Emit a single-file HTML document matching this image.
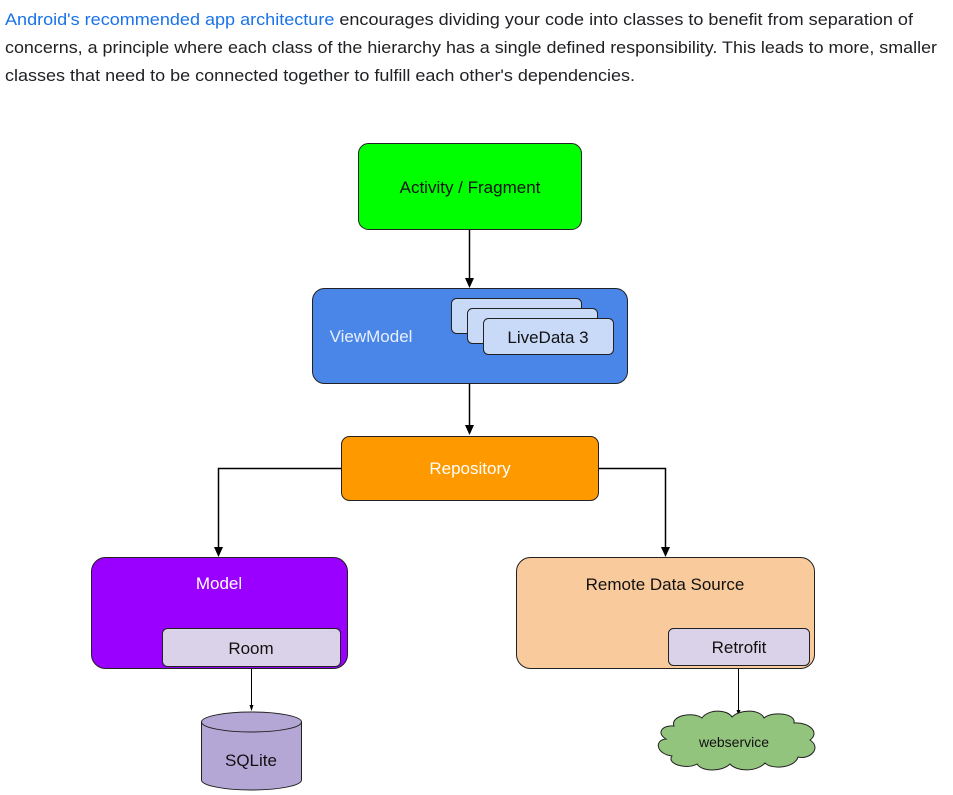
<!DOCTYPE html>
<html><head><meta charset="utf-8"><style>
body{margin:0;background:#fff;width:953px;height:795px;overflow:hidden}
svg{position:absolute;left:0;top:0}
</style></head><body>
<svg width="953" height="795" font-family="Liberation Sans, sans-serif">
<g font-size="16.4" fill="#202124">
<text x="5" y="25" textLength="908" lengthAdjust="spacingAndGlyphs"><tspan fill="#1a73e8">Android's recommended app architecture</tspan> encourages dividing your code into classes to benefit from separation of</text>
<text x="5" y="53" textLength="932" lengthAdjust="spacingAndGlyphs">concerns, a principle where each class of the hierarchy has a single defined responsibility. This leads to more, smaller</text>
<text x="5" y="81" textLength="630" lengthAdjust="spacingAndGlyphs">classes that need to be connected together to fulfill each other's dependencies.</text>
</g>
<g stroke="#000" stroke-width="1.5" fill="none">
<line x1="469.5" y1="230" x2="469.5" y2="278"/>
<line x1="469.5" y1="384" x2="469.5" y2="426"/>
<polyline points="341,468.5 218.5,468.5 218.5,548"/>
<polyline points="598,468.5 665.5,468.5 665.5,548"/>
</g>
<g fill="#000"><path d="M465,278 L474,278 L469.5,288Z"/><path d="M465,425 L474,425 L469.5,435Z"/><path d="M214,547 L223,547 L218.5,557Z"/><path d="M661,547 L670,547 L665.5,557Z"/></g>
<line x1="251.5" y1="666" x2="251.5" y2="706" stroke="#000"/><path d="M249.5,705 L253.5,705 L251.5,711Z"/>
<line x1="738.5" y1="665" x2="738.5" y2="711" stroke="#000"/><path d="M736.5,710 L740.5,710 L738.5,716Z"/>
<rect x="358.5" y="143.5" width="223" height="86" rx="10" fill="#00ff00" stroke="#222"/>
<text x="470" y="193" font-size="17" text-anchor="middle" fill="#111">Activity / Fragment</text>
<rect x="312.5" y="288.5" width="315" height="95" rx="12" fill="#4a86e8" stroke="#222"/>
<text x="371" y="342" font-size="17" text-anchor="middle" fill="#e8f0fe">ViewModel</text>
<rect x="451.5" y="298.5" width="130" height="35" rx="5" fill="#c9daf8" stroke="#222"/>
<rect x="467.5" y="308.5" width="130" height="35" rx="5" fill="#c9daf8" stroke="#222"/>
<rect x="483.5" y="318.5" width="130" height="36" rx="5" fill="#c9daf8" stroke="#222"/>
<text x="548" y="343" font-size="17" text-anchor="middle" fill="#111">LiveData 3</text>
<rect x="341.5" y="436.5" width="257" height="64" rx="8" fill="#ff9900" stroke="#222"/>
<text x="470" y="474" font-size="17" text-anchor="middle" fill="#fff">Repository</text>
<rect x="91.5" y="557.5" width="256" height="111" rx="14" fill="#9900ff" stroke="#222"/>
<text x="219" y="589" font-size="17" text-anchor="middle" fill="#fff">Model</text>
<rect x="162.5" y="628.5" width="178" height="38" rx="5" fill="#d9d2e9" stroke="#222"/>
<text x="251" y="654" font-size="17" text-anchor="middle" fill="#111">Room</text>
<rect x="516.5" y="557.5" width="298" height="111" rx="14" fill="#f9cb9c" stroke="#222"/>
<text x="665" y="590" font-size="17" text-anchor="middle" fill="#111">Remote Data Source</text>
<rect x="668.5" y="628.5" width="141" height="37" rx="5" fill="#d9d2e9" stroke="#222"/>
<text x="739" y="653" font-size="17" text-anchor="middle" fill="#111">Retrofit</text>
<path d="M201.5,722 V780 A50,10 0 0 0 301.5,780 V722 A50,10 0 0 0 201.5,722 A50,10 0 0 0 301.5,722" fill="#b4a7d6" stroke="#222"/>
<text x="251" y="766" font-size="17" text-anchor="middle" fill="#111">SQLite</text>
<path d="M674,726 C670,716 692,711 702,718 C708,709 727,709 732,717 C740,709 760,709 764,718 C772,711 796,713 794,723 C810,722 820,733 810,740 C822,748 810,760 798,757 C795,768 772,770 765,763 C757,772 737,772 730,764 C722,772 702,772 697,764 C687,770 666,764 672,756 C656,754 654,740 666,739 C656,733 662,725 674,726 Z" fill="#93c47d" stroke="#222"/>
<text x="734" y="747" font-size="14" text-anchor="middle" fill="#111">webservice</text>
</svg>
</body></html>
